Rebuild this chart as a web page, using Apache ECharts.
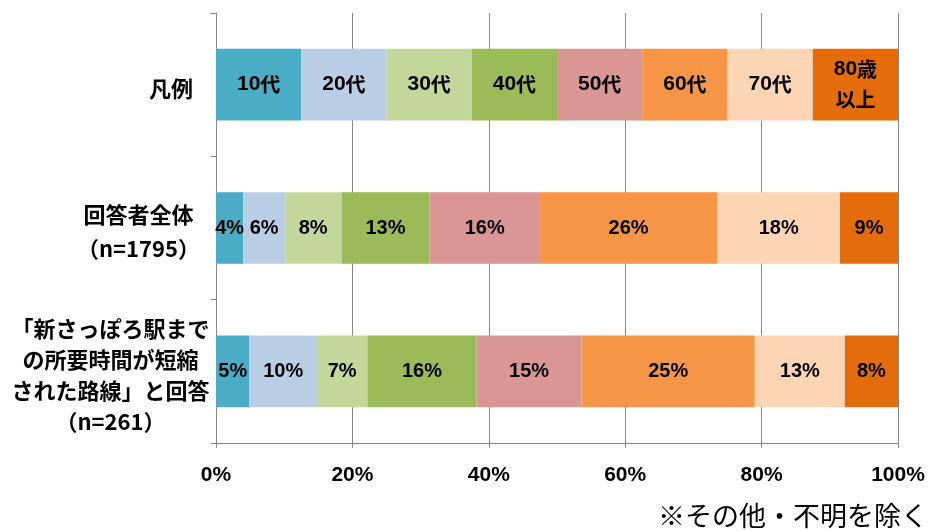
<!DOCTYPE html>
<html>
<head>
<meta charset="utf-8">
<script src="https://cdn.jsdelivr.net/npm/echarts@6/dist/echarts.min.js"></script>
<style>html,body{margin:0;padding:0;background:#fff;}#c{width:928px;height:531px;}</style>
</head>
<body>
<div id="c"></div>
<script>
const categories = ['凡例', '回答者全体\n（n=1795）', '「新さっぽろ駅まで\nの所要時間が短縮\nされた路線」と回答\n（n=261）'];
const seriesNames = ['10代', '20代', '30代', '40代', '50代', '60代', '70代', '80歳以上'];
const legendRow = [12.5, 12.5, 12.5, 12.5, 12.5, 12.5, 12.5, 12.5];
const allRespondents = [4.0, 6.1, 8.3, 12.9, 16.2, 26.0, 18.0, 8.5];
const shortenedRoute = [4.9, 9.9, 7.4, 16.0, 15.4, 25.4, 13.2, 7.8];
const xTicks = [0, 20, 40, 60, 80, 100];
const colors = ['#4BACC6', '#B9CDE5', '#C4D79B', '#9BBB59', '#D99694', '#F79646', '#FCD5B5', '#E46C0A'];

const digitFont = '"Liberation Sans", Arial, sans-serif';
const cjkFont = '"Noto Sans CJK JP", sans-serif';

function legendLabel(name) {
  if (name === '80歳以上') return '{d|80}{k|歳}\n{k|以上}';
  const m = name.match(/^(\d+)(.*)$/);
  return '{d|' + m[1] + '}{k|' + m[2] + '}';
}

const labelRich = {
  d: { fontFamily: digitFont, fontWeight: 'bold', fontSize: 21, color: '#000', lineHeight: 30 },
  k: { fontFamily: cjkFont, fontWeight: 'bold', fontSize: 20, color: '#000', lineHeight: 30 },
  p: { fontFamily: digitFont, fontWeight: 'bold', fontSize: 20, color: '#000' }
};

const series = seriesNames.map((name, i) => ({
  name: name,
  type: 'bar',
  stack: 'total',
  barWidth: '50%',
  itemStyle: { color: colors[i] },
  label: {
    show: true,
    position: 'inside',
    rich: labelRich,
    formatter: function (p) {
      if (p.dataIndex === 0) return legendLabel(name);
      return '{p|' + Math.round(p.value) + '%}';
    }
  },
  data: [legendRow[i], allRespondents[i], shortenedRoute[i]]
}));

const catWidths = [74, 139, 195];
const catLineHeights = [31, 34, 31];
const catRich = {};
catWidths.forEach((w, i) => {
  catRich['s' + i] = {
    width: w, align: 'center', fontFamily: cjkFont, fontWeight: 'bold',
    fontSize: 22, lineHeight: catLineHeights[i], color: '#000'
  };
});

const chart = echarts.init(document.getElementById('c'), null, { renderer: 'canvas' });
chart.setOption({
  animation: false,
  backgroundColor: '#fff',
  grid: { left: 216, right: 30, top: 13, bottom: 88, containLabel: false },
  xAxis: {
    type: 'value', min: 0, max: 100, interval: 20,
    axisLine: { show: true, lineStyle: { color: '#868686', width: 1 } },
    axisTick: { show: true, length: 5, lineStyle: { color: '#868686' } },
    splitLine: { show: true, lineStyle: { color: '#868686', width: 1 } },
    axisLabel: {
      margin: 22,
      fontFamily: digitFont, fontWeight: 'bold', fontSize: 21, color: '#000',
      formatter: function (v) { return xTicks.indexOf(v) >= 0 ? v + '%' : ''; }
    }
  },
  yAxis: {
    type: 'category', inverse: true, data: categories,
    axisLine: { show: true, lineStyle: { color: '#868686', width: 1 } },
    axisTick: { show: true, length: 5, lineStyle: { color: '#868686' } },
    splitLine: { show: false },
    axisLabel: {
      margin: 8, align: 'right', rich: catRich, padding: [8, 0, 0, 0],
      formatter: function (v, idx) {
        return v.split('\n').map(l => '{s' + idx + '|' + l + '}').join('\n');
      }
    }
  },
  graphic: [{
    type: 'text', right: 0, top: 502,
    style: { text: '※その他・不明を除く', fontFamily: cjkFont, fontSize: 27, fill: '#000' }
  }],
  series: series
});
</script>
</body>
</html>
